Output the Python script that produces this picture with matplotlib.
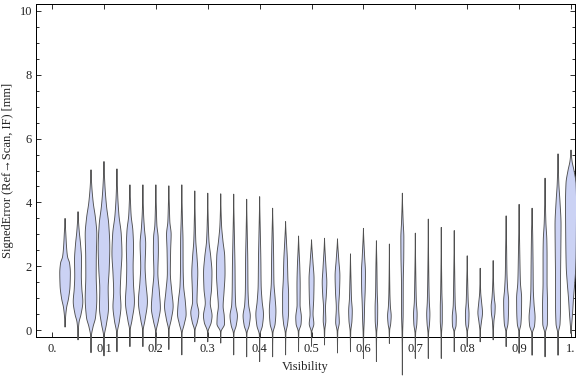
import numpy as np
import matplotlib
matplotlib.use("Agg")
import matplotlib.pyplot as plt
from matplotlib.ticker import FixedLocator, FixedFormatter, MultipleLocator

# ---------------- data ----------------
positions = [0.025 * (k + 1) for k in range(40)]

# per violin: knots of signed error (mm) and relative density (half width)
violin_y = [
    [0.1, 0.4, 0.7, 1.0, 1.4, 1.8, 2.1, 2.3, 2.6, 3.0, 3.5],
    [-0.3, 0.0, 0.25, 0.5, 0.9, 1.3, 1.7, 2.2, 2.7, 3.1, 3.71],
    [-0.7, -0.2, 0.1, 0.4, 1.0, 1.7, 2.3, 3.0, 3.5, 4.0, 4.5, 5.02],
    [-0.8, -0.2, 0.2, 0.7, 1.3, 1.9, 2.6, 3.3, 3.9, 4.5, 5.28],
    [-0.67, -0.1, 0.3, 0.75, 1.2, 1.8, 2.4, 3.0, 3.6, 4.2, 5.05],
    [-0.51, 0.0, 0.3, 0.9, 1.5, 2.0, 2.6, 3.1, 3.6, 4.0, 4.55],
    [-0.51, 0.0, 0.3, 0.9, 1.5, 2.0, 2.7, 3.2, 3.7, 4.55],
    [-0.62, -0.05, 0.3, 0.7, 1.2, 1.8, 2.5, 2.9, 3.3, 3.8, 4.55],
    [-0.6, 0.0, 0.35, 0.75, 1.2, 1.8, 2.5, 3.0, 3.4, 3.9, 4.52],
    [-0.77, -0.1, 0.2, 0.5, 0.9, 1.4, 2.0, 2.8, 3.5, 4.55],
    [-0.36, 0.0, 0.25, 0.55, 0.9, 1.3, 1.8, 2.3, 2.8, 3.4, 4.36],
    [-0.36, -0.05, 0.25, 0.45, 0.85, 1.3, 1.8, 2.3, 2.8, 3.4, 4.29],
    [-0.4, -0.05, 0.2, 0.45, 0.75, 1.2, 1.8, 2.3, 2.8, 3.3, 4.27],
    [-0.77, -0.1, 0.15, 0.45, 0.8, 1.3, 2.0, 2.8, 4.26],
    [-0.83, -0.1, 0.15, 0.45, 0.8, 1.3, 2.2, 3.0, 4.1],
    [-0.98, -0.15, 0.15, 0.5, 0.9, 1.4, 2.2, 3.0, 4.18],
    [-0.83, -0.1, 0.2, 0.6, 1.0, 1.5, 2.3, 3.0, 3.82],
    [-0.77, -0.1, 0.2, 0.6, 1.1, 1.6, 2.2, 2.7, 3.4],
    [-0.67, -0.05, 0.2, 0.4, 0.8, 1.4, 2.0, 2.5, 2.95],
    [-0.5, -0.05, 0.2, 0.5, 1.0, 1.6, 2.1, 2.83],
    [-0.46, 0.0, 0.3, 0.7, 1.1, 1.5, 1.9, 2.88],
    [-0.71, -0.05, 0.25, 0.7, 1.2, 1.7, 2.2, 2.86],
    [-0.67, -0.05, 0.3, 0.6, 1.0, 1.5, 2.39],
    [-0.88, -0.1, 0.3, 0.8, 1.3, 1.8, 2.3, 3.19],
    [-0.98, -0.1, 0.3, 0.7, 1.2, 2.0, 2.8],
    [-0.41, 0.0, 0.2, 0.45, 0.75, 1.2, 2.7],
    [-1.4, -0.1, 0.5, 1.5, 2.3, 2.9, 3.4, 4.29],
    [-0.88, -0.1, 0.2, 0.5, 0.9, 1.5, 3.04],
    [-0.88, -0.1, 0.2, 0.5, 0.9, 1.5, 3.48],
    [-0.88, -0.1, 0.3, 0.7, 1.2, 3.22],
    [-0.67, -0.05, 0.15, 0.4, 0.8, 1.5, 3.12],
    [-0.51, -0.05, 0.2, 0.5, 0.9, 1.5, 2.33],
    [-0.36, 0.0, 0.25, 0.55, 0.85, 1.2, 1.94],
    [-0.3, 0.0, 0.3, 0.55, 0.75, 1.0, 1.4, 2.18],
    [-0.51, -0.05, 0.2, 0.5, 0.9, 1.3, 1.8, 2.5, 3.58],
    [-0.72, -0.05, 0.2, 0.6, 1.0, 1.5, 2.2, 3.94],
    [-0.78, -0.1, 0.15, 0.4, 0.8, 1.3, 2.0, 3.0, 3.82],
    [-0.83, -0.1, 0.2, 0.8, 1.5, 2.3, 2.8, 3.4, 4.76],
    [-0.78, -0.1, 0.2, 0.8, 1.5, 2.5, 3.3, 4.0, 4.6, 5.52],
    [-0.1, 0.1, 0.5, 1.0, 1.5, 2.0, 3.0, 4.0, 4.6, 5.0, 5.3, 5.64],
]
violin_w = [
    [0, 0.5, 1.5, 3.5, 5, 5.3, 4.5, 2.5, 1.5, 0.8, 0],
    [0, 0.3, 1, 3, 4.8, 3.8, 3.3, 3.5, 2.5, 1.2, 0],
    [0, 0.3, 2, 4.5, 5.8, 5.2, 5.3, 5.8, 4.5, 2.2, 0.8, 0],
    [0, 0.3, 2.5, 4.5, 4.2, 5.2, 5.8, 4.8, 2.5, 1, 0],
    [0, 0.3, 2.5, 4, 3.3, 4, 5, 4.3, 2, 0.8, 0],
    [0, 0.3, 2, 4.5, 3.5, 3.2, 3.6, 3, 1.2, 0.6, 0],
    [0, 0.3, 2, 4.5, 3, 2.2, 2.8, 1.5, 0.6, 0],
    [0, 0.3, 2.5, 4.5, 3.5, 2, 2.5, 2.3, 1, 0.5, 0],
    [0, 0.3, 2.5, 4.3, 3, 1.5, 1.8, 2.3, 1, 0.5, 0],
    [0, 0.3, 2.5, 4.3, 3.5, 1.8, 1.3, 1.2, 0.6, 0],
    [0, 0.3, 2.5, 4, 2.2, 2.5, 3, 2.2, 1, 0.5, 0],
    [0, 0.3, 3.5, 4.3, 2.5, 3.8, 4.2, 3, 1.2, 0.5, 0],
    [0, 0.3, 3.8, 3.5, 2.4, 3.3, 4.3, 4, 2.2, 0.8, 0],
    [0, 0.3, 2.5, 3.7, 2, 1.5, 1.3, 0.8, 0],
    [0, 0.3, 2.5, 3.6, 2, 1.3, 1.1, 0.6, 0],
    [0, 0.3, 2.8, 3.8, 2.5, 1.5, 1.2, 0.7, 0],
    [0, 0.3, 2.5, 3.3, 2.5, 1.3, 1, 0.6, 0],
    [0, 0.3, 2, 3, 3, 2.3, 1.8, 1, 0],
    [0, 0.3, 2.5, 2.8, 1.5, 1.6, 1.2, 0.5, 0],
    [0, 0.3, 2.3, 1.5, 2.2, 2.5, 1.5, 0],
    [0, 0.3, 1.3, 1, 1.8, 2.3, 1.6, 0],
    [0, 0.3, 1.8, 1.2, 2, 2.4, 1.3, 0],
    [0, 0.3, 1.5, 1.8, 1, 0.6, 0],
    [0, 0.3, 0.8, 1.2, 1.8, 2, 1.2, 0],
    [0, 0.3, 1.2, 1.3, 0.8, 0.5, 0],
    [0, 0.3, 1.3, 1.8, 1, 0.5, 0],
    [0, 0.3, 0.8, 0.9, 1.4, 1.5, 0.8, 0],
    [0, 0.3, 1.5, 1.8, 1, 0.6, 0],
    [0, 0.3, 1.2, 1.6, 1, 0.6, 0],
    [0, 0.3, 1, 1, 0.6, 0],
    [0, 0.3, 1.8, 2, 1, 0.6, 0],
    [0, 0.3, 1.5, 1.8, 1, 0.5, 0],
    [0, 0.3, 1.2, 2.3, 1.5, 0.5, 0],
    [0, 0.3, 0.8, 1.8, 2, 1.2, 0.5, 0],
    [0, 0.3, 1.8, 2.3, 2.5, 1.5, 0.8, 0.5, 0],
    [0, 0.3, 1.8, 2.4, 2.5, 1.3, 0.8, 0],
    [0, 0.3, 2.5, 3, 2, 1.2, 1, 0.6, 0],
    [0, 0.3, 2.3, 2.5, 2, 2, 1.8, 0.8, 0],
    [0, 0.3, 2, 2.5, 2.5, 2.8, 3, 2, 0.8, 0],
    [0, 0.5, 1.5, 2.5, 3.8, 4.8, 5.3, 5.5, 5, 3, 1, 0],
]

x_ticks = [0.0, 0.1, 0.2, 0.3, 0.4, 0.5, 0.6, 0.7, 0.8, 0.9, 1.0]
x_tick_labels = ["0.", "0.1", "0.2", "0.3", "0.4", "0.5", "0.6", "0.7", "0.8", "0.9", "1."]
y_ticks = [0, 2, 4, 6, 8, 10]

x_label = "Visibility"
y_label = "SignedError (Ref\u2192Scan, IF) [mm]"


def pchip(x, y, xn):
    x = np.asarray(x, float)
    y = np.asarray(y, float)
    h = np.diff(x)
    d = np.diff(y) / h
    m = np.zeros_like(y)
    for k in range(1, len(x) - 1):
        if d[k - 1] * d[k] > 0:
            w1 = 2 * h[k] + h[k - 1]
            w2 = h[k] + 2 * h[k - 1]
            m[k] = (w1 + w2) / (w1 / d[k - 1] + w2 / d[k])
    m[0] = d[0] * 0.5
    m[-1] = d[-1] * 0.5
    idx = np.clip(np.searchsorted(x, xn) - 1, 0, len(x) - 2)
    t = (xn - x[idx]) / h[idx]
    h00 = 2 * t**3 - 3 * t**2 + 1
    h10 = t**3 - 2 * t**2 + t
    h01 = -2 * t**3 + 3 * t**2
    h11 = t**3 - t**2
    return h00 * y[idx] + h10 * h[idx] * m[idx] + h01 * y[idx + 1] + h11 * h[idx] * m[idx + 1]


# ---------------- drawing ----------------
plt.rcParams['font.family'] = ['Liberation Serif', 'DejaVu Serif']
fig = plt.figure(figsize=(576 / 72, 377 / 72), dpi=72)
ax = fig.add_axes([36 / 576, 1 - 337 / 377, (575 - 36) / 576, (337 - 4) / 377])

width_scale = 1.0 / 519.0   # relative density -> visibility units
fill_c = "#CBD2F4"
edge_c = "#505050"

for pos, ys, ws in zip(positions, violin_y, violin_w):
    yy = np.linspace(ys[0], ys[-1], 300)
    ww = np.clip(pchip(ys, ws, yy), 0, None) * width_scale
    xs = np.concatenate([pos - ww, (pos + ww)[::-1]])
    yv = np.concatenate([yy, yy[::-1]])
    ax.fill(xs, yv, facecolor=fill_c, edgecolor=edge_c, linewidth=0.9,
            clip_on=False, zorder=3, joinstyle='round')

ax.set_xlim(-0.031, 1.0077)
ax.set_ylim(-0.21, 10.21)

ax.xaxis.set_major_locator(FixedLocator(x_ticks))
ax.xaxis.set_major_formatter(FixedFormatter(x_tick_labels))
ax.yaxis.set_major_locator(FixedLocator(y_ticks))
ax.yaxis.set_minor_locator(MultipleLocator(0.5))

ax.tick_params(which='both', direction='in', top=True, right=True,
               labeltop=False, labelright=False, colors='black',
               labelcolor='#222222', labelsize=12.5, width=0.8)
ax.tick_params(which='major', length=5, pad=4)
ax.tick_params(axis='x', which='major', pad=6)
ax.tick_params(which='minor', length=3)
ax.tick_params(axis='x', which='minor', length=0)

for s in ax.spines.values():
    s.set_linewidth(1.0)
    s.set_color('black')

ax.set_xlabel(x_label, fontsize=12.5, color='#222222', labelpad=6)
ax.set_ylabel(y_label, fontsize=12.5, color='#222222', labelpad=5)

fig.savefig("out.png", dpi=72)
